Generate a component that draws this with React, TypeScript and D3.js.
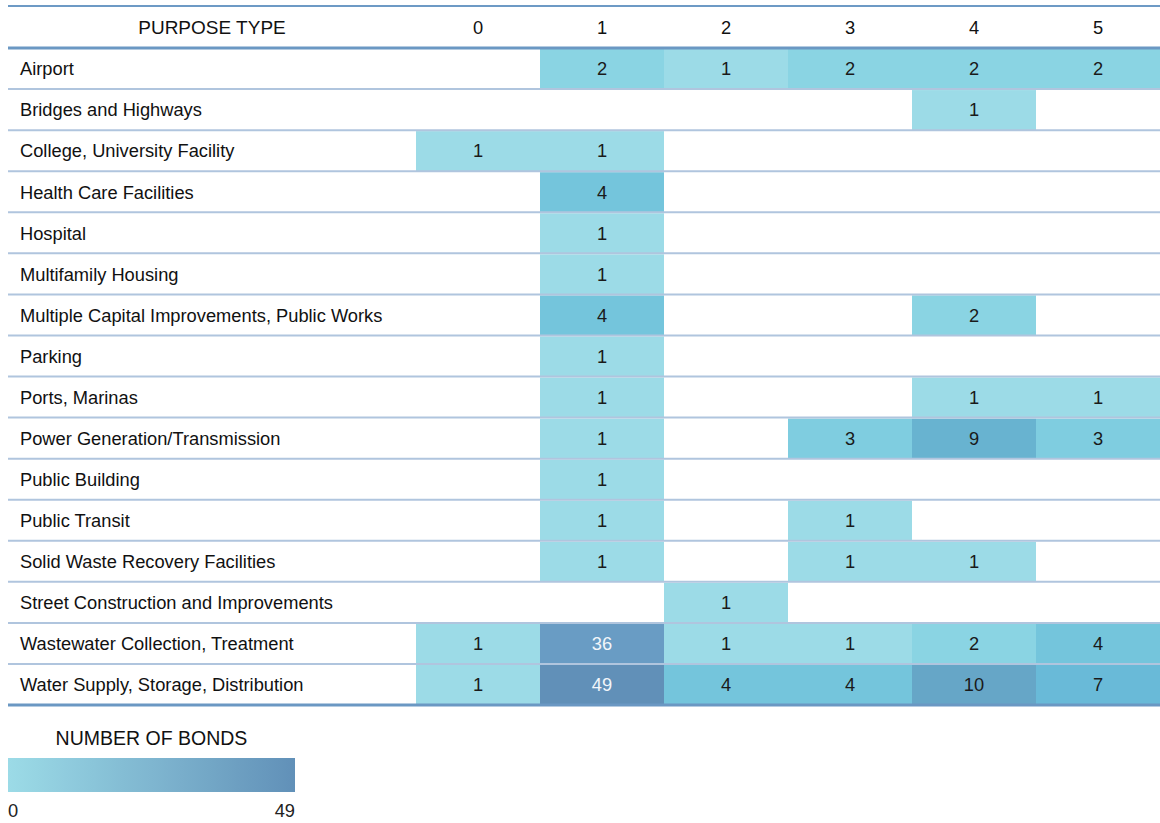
import React from "react";
import * as d3 from "d3";

// purpose categories (rows)
const purposes = [
  "Airport",
  "Bridges and Highways",
  "College, University Facility",
  "Health Care Facilities",
  "Hospital",
  "Multifamily Housing",
  "Multiple Capital Improvements, Public Works",
  "Parking",
  "Ports, Marinas",
  "Power Generation/Transmission",
  "Public Building",
  "Public Transit",
  "Solid Waste Recovery Facilities",
  "Street Construction and Improvements",
  "Wastewater Collection, Treatment",
  "Water Supply, Storage, Distribution",
];

// purpose types (columns)
const purposeTypes = ["0", "1", "2", "3", "4", "5"];

// number of bonds per purpose type, in the order of `purposes` (null = empty)
const type0 = [null, null, 1, null, null, null, null, null, null, null, null, null, null, null, 1, 1];
const type1 = [2, null, 1, 4, 1, 1, 4, 1, 1, 1, 1, 1, 1, null, 36, 49];
const type2 = [1, null, null, null, null, null, null, null, null, null, null, null, null, 1, 1, 4];
const type3 = [2, null, null, null, null, null, null, null, null, 3, null, 1, 1, null, 1, 4];
const type4 = [2, 1, null, null, null, null, 2, null, 1, 9, null, null, 1, null, 2, 10];
const type5 = [2, null, null, null, null, null, null, null, 1, 3, null, null, null, null, 4, 7];

const byType = [type0, type1, type2, type3, type4, type5];

const legendTitle = "NUMBER OF BONDS";
const headerTitle = "PURPOSE TYPE";

const W = 1160;
const H = 823;
const FONT = "'Liberation Sans', Arial, Helvetica, sans-serif";

export default function App() {
  const left = 8;
  const labelW = 408;
  const headerTop = 6;
  const headerBottom = 48;
  const tableBottom = 705;
  const fs = 18.3;

  const maxVal = d3.max(byType.flat().map((v) => v ?? 0)) as number;

  const x = d3.scaleBand<string>().domain(purposeTypes).range([left + labelW, W]);
  const y = d3.scaleBand<string>().domain(purposes).range([headerBottom, tableBottom]);

  const color = d3
    .scaleLinear<string>()
    .domain([1, 2, 4, 7, 9, 10, 36, maxVal])
    .range(["#9cdbe7", "#8ad4e3", "#74c5dc", "#69bad8", "#68b3d0", "#66a6c7", "#699cc4", "#6190b8"])
    .clamp(true);

  const cells = purposes.flatMap((p, i) =>
    purposeTypes.map((t, j) => ({ p, t, v: byType[j][i] })).filter((d) => d.v != null)
  );

  // legend
  const legendX = d3.scaleLinear().domain([0, maxVal]).range([8, 295]);
  const gradStops = d3.range(0, 1.0001, 0.1);
  const legendColor = d3.interpolateRgb("#9cdbe7", "#6190b8");

  return (
    <svg
      width={W}
      height={H}
      style={{ position: "absolute", left: 0, top: 0, fontFamily: FONT }}
    >
      <defs>
        <linearGradient id="legend-grad" x1="0" x2="1" y1="0" y2="0">
          {gradStops.map((s) => (
            <stop key={s} offset={s} stopColor={legendColor(s)} />
          ))}
        </linearGradient>
      </defs>

      {/* header */}
      <line x1={left} x2={W} y1={headerTop} y2={headerTop} stroke="#6d9ac5" strokeWidth={2} />
      <text x={left + labelW / 2} y={(headerTop + headerBottom) / 2 + 2} textAnchor="middle" dominantBaseline="middle" fontSize={19} fill="#111">
        {headerTitle}
      </text>
      {purposeTypes.map((t) => (
        <text key={t} x={(x(t) as number) + x.bandwidth() / 2} y={(headerTop + headerBottom) / 2 + 2} textAnchor="middle" dominantBaseline="middle" fontSize={fs} fill="#111">
          {t}
        </text>
      ))}

      {/* cells */}
      {cells.map((d) => (
        <g key={d.p + d.t}>
          <rect
            x={x(d.t)}
            y={(y(d.p) as number) + 1}
            width={x.bandwidth()}
            height={y.bandwidth() - 1}
            fill={color(d.v as number)}
          />
          <text
            x={(x(d.t) as number) + x.bandwidth() / 2}
            y={(y(d.p) as number) + y.bandwidth() / 2 + 2}
            textAnchor="middle"
            dominantBaseline="middle"
            fontSize={fs}
            fill={(d.v as number) > 20 ? "#f2f6fa" : "#1a1a1a"}
          >
            {d.v}
          </text>
        </g>
      ))}

      {/* row labels and separators */}
      {purposes.map((p, i) => (
        <g key={p}>
          <text x={20} y={(y(p) as number) + y.bandwidth() / 2 + 2} dominantBaseline="middle" fontSize={fs} fill="#111">
            {p}
          </text>
          {i < purposes.length - 1 && (
            <line
              x1={left}
              x2={W}
              y1={(y(p) as number) + y.bandwidth()}
              y2={(y(p) as number) + y.bandwidth()}
              stroke="#b0c5de"
              strokeWidth={2}
            />
          )}
        </g>
      ))}

      <line x1={left} x2={W} y1={headerBottom} y2={headerBottom} stroke="#6b98c3" strokeWidth={3} />
      <line x1={left} x2={W} y1={tableBottom} y2={tableBottom} stroke="#6b98c3" strokeWidth={3} />

      {/* legend */}
      <text x={(legendX(0) + legendX(maxVal)) / 2} y={740} textAnchor="middle" dominantBaseline="middle" fontSize={19.5} fill="#111">
        {legendTitle}
      </text>
      <rect x={legendX(0)} y={758} width={legendX(maxVal) - legendX(0)} height={34} fill="url(#legend-grad)" />
      <text x={legendX(0)} y={812} dominantBaseline="middle" fontSize={fs} fill="#222">
        {0}
      </text>
      <text x={legendX(maxVal)} y={812} textAnchor="end" dominantBaseline="middle" fontSize={fs} fill="#222">
        {maxVal}
      </text>
    </svg>
  );
}
